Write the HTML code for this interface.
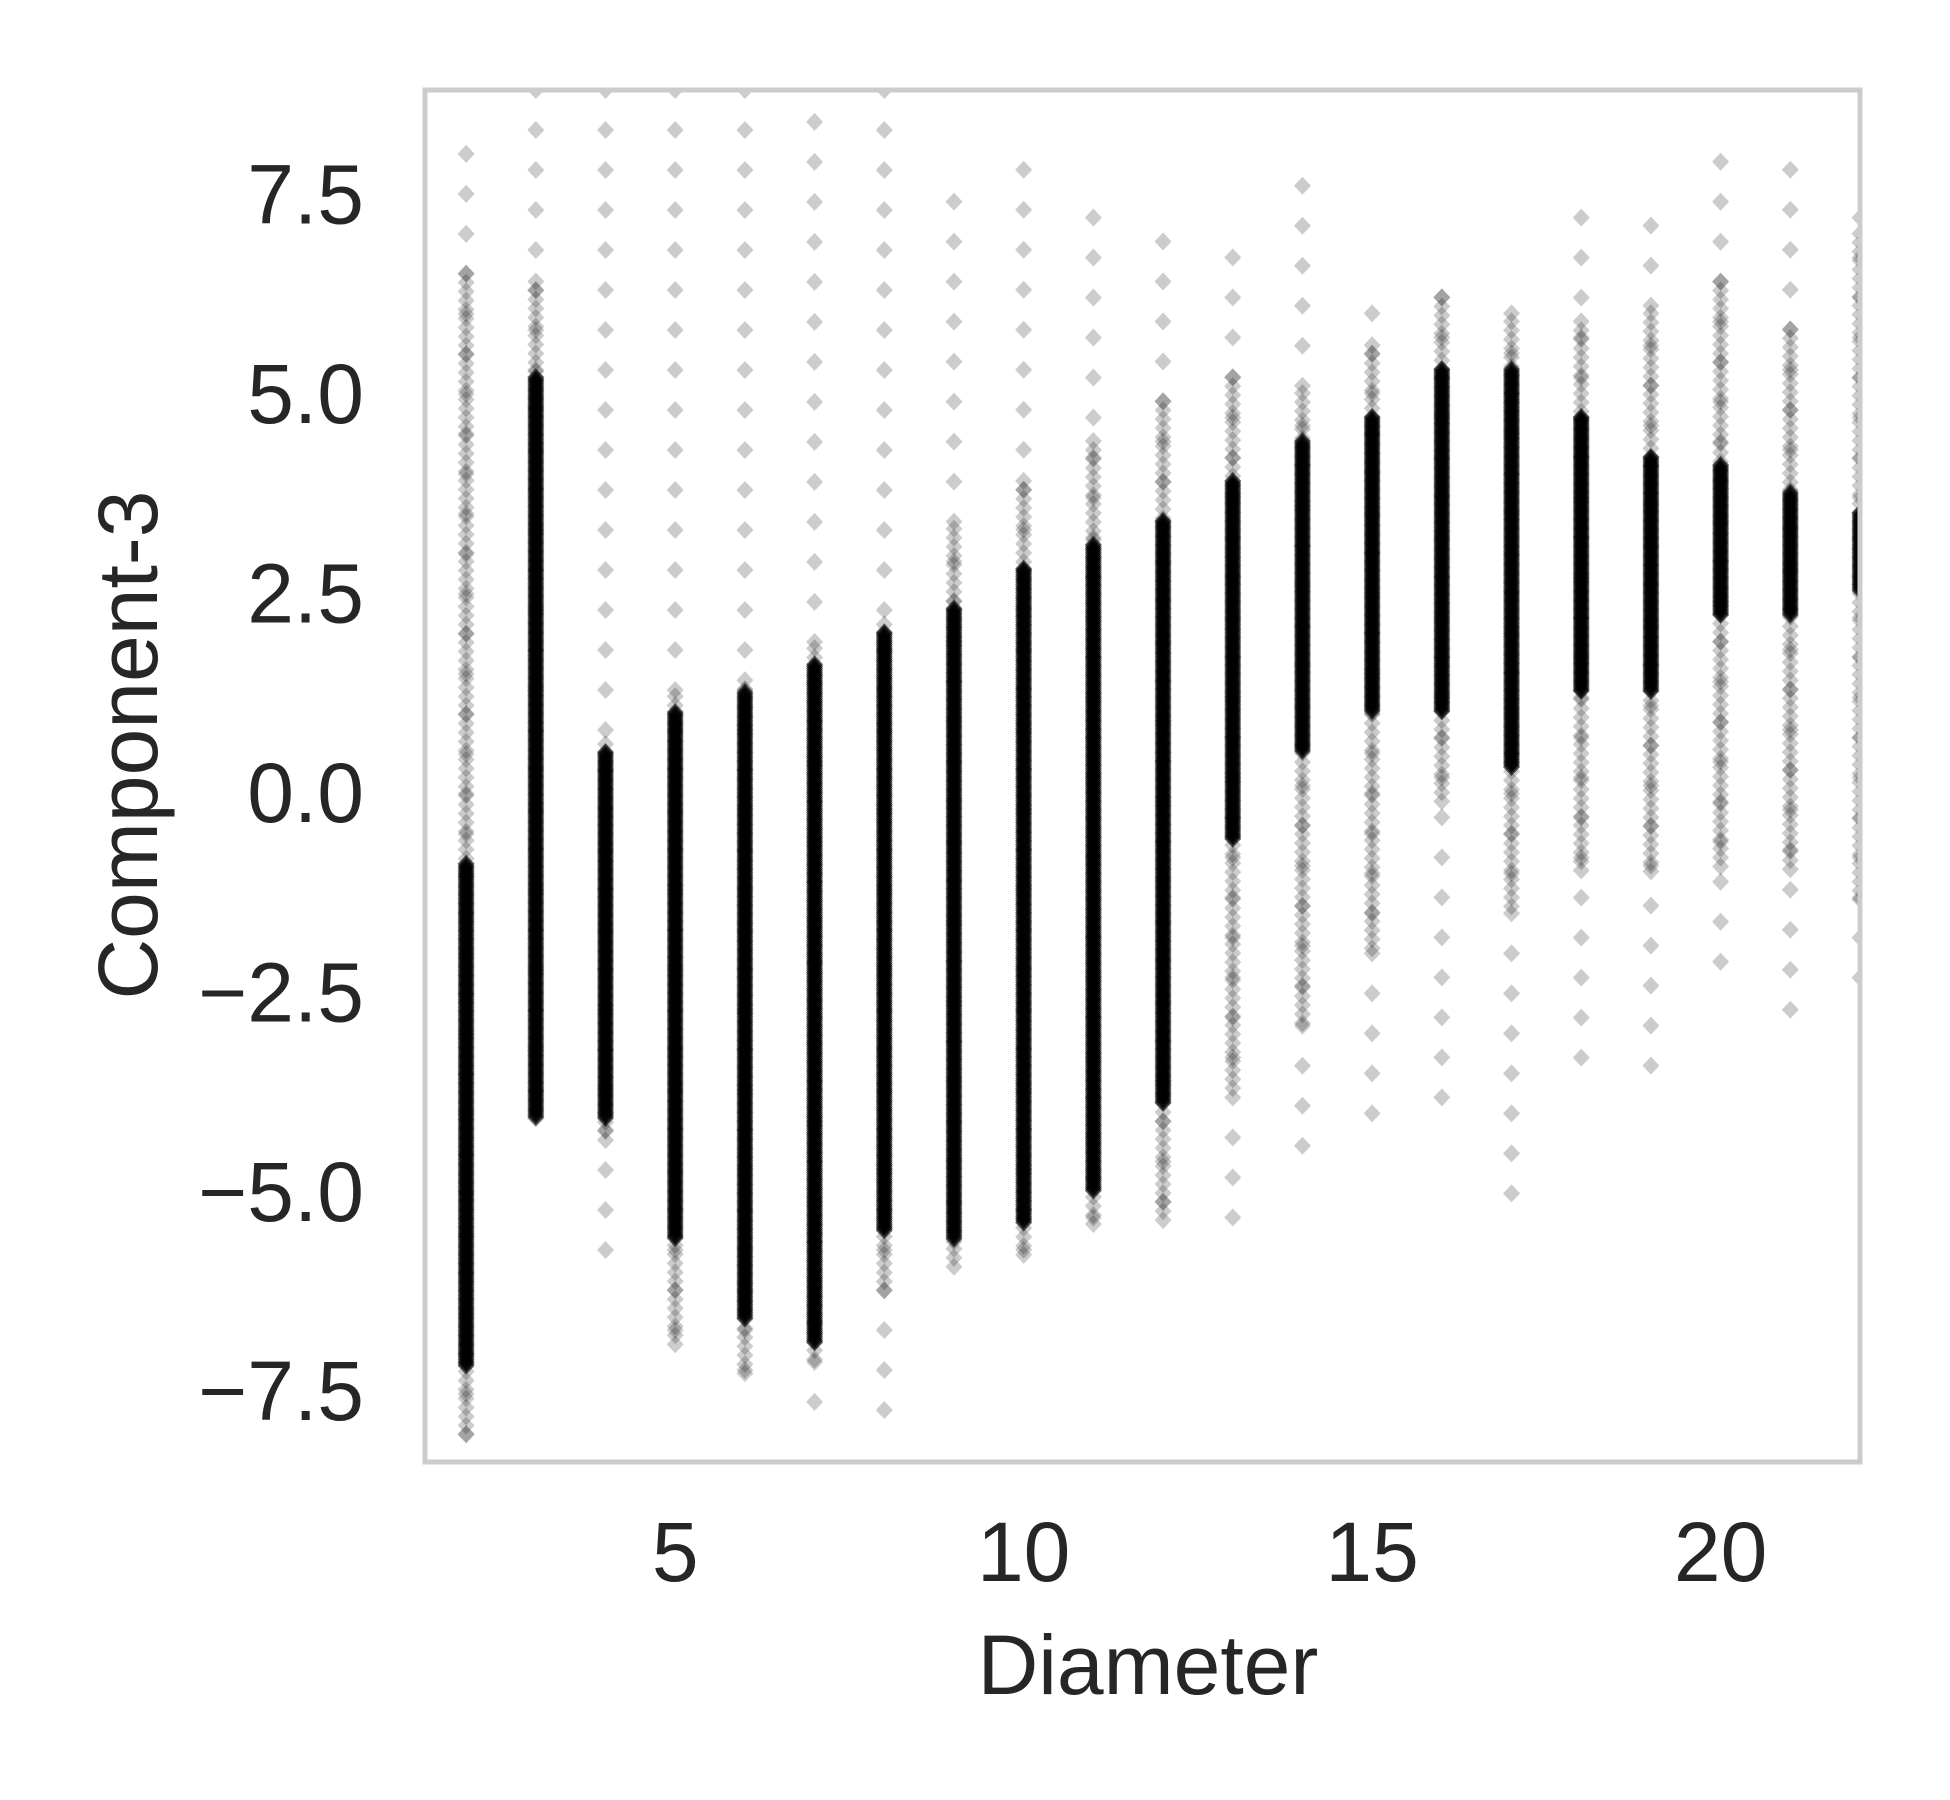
<!DOCTYPE html>
<html><head><meta charset="utf-8"><style>
html,body{margin:0;padding:0;background:#fff;}
svg{display:block;font-family:"Liberation Sans",Arial,sans-serif;}
</style></head><body>
<svg id="chart" width="1950" height="1800" viewBox="0 0 1950 1800" xmlns="http://www.w3.org/2000/svg">
<defs><clipPath id="plotclip"><rect x="425" y="90" width="1435" height="1372"/></clipPath></defs>
<rect x="425" y="90" width="1435" height="1372" fill="#fff"/>
<g id="points" clip-path="url(#plotclip)"></g>
<rect x="425" y="90" width="1435" height="1372" fill="none" stroke="#cccccc" stroke-width="5"/>
<g id="xticks"></g>
<g id="yticks"></g>
<text x="1148" y="1694" font-size="84" fill="#262626" text-anchor="middle">Diameter</text>
<text x="157" y="745" font-size="84" fill="#262626" text-anchor="middle" transform="rotate(-90 157 745)">Component-3</text>
</svg>
<script>
const diameters = [2,3,4,5,6,7,8,9,10,11,12,13,14,15,16,17,18,19,20,21,22];
const coreLo = [-7.2,-4.1,-4.1,-5.6,-6.6,-6.9,-5.5,-5.6,-5.4,-5.0,-3.9,-0.6,0.5,1.0,1.0,0.3,1.25,1.25,2.2,2.2,2.5];
const coreHi = [-0.9,5.2,0.5,1.0,1.25,1.6,2.0,2.3,2.8,3.1,3.4,3.9,4.4,4.7,5.3,5.3,4.7,4.2,4.1,3.75,3.5];
const haloLo = [-8.1,-4.2,-4.4,-7.0,-7.4,-7.2,-6.3,-6.0,-5.9,-5.5,-5.4,-3.8,-3.0,-2.0,-0.2,-1.5,-1.0,-1.1,-1.0,-1.0,-1.4];
const haloHi = [6.5,6.4,0.6,1.2,1.4,1.8,2.1,3.3,3.9,4.4,4.9,5.2,5.0,5.6,6.2,5.9,5.9,6.0,6.4,5.8,7.0];
const tailLo = [-8.3,-4.2,-6.2,-7.0,-7.4,-7.8,-8.0,-6.1,-6.0,-5.6,-5.5,-5.8,-4.8,-4.3,-4.3,-5.1,-3.5,-3.6,-2.5,-2.8,-2.7];
const tailHi = [8.0,8.8,8.8,8.8,8.8,8.4,8.8,7.4,7.8,7.2,6.9,6.7,7.6,6.0,6.2,6.0,7.2,7.1,7.9,7.8,7.2];
const xTicks = [5,10,15,20];
const yTicks = [7.5,5.0,2.5,0.0,-2.5,-5.0,-7.5];
const xTickLabels = ["5","10","15","20"];
const yTickLabels = ["7.5","5.0","2.5","0.0","\u22122.5","\u22125.0","\u22127.5"];

const NS = "http://www.w3.org/2000/svg";
const X0 = 425, X1 = 1860, Y0 = 90, Y1 = 1462;
const xMin = 1.41, xMax = 22.0, yMin = -8.40, yMax = 8.80;
function xScale(v){ return X0 + (v - xMin) / (xMax - xMin) * (X1 - X0); }
function yScale(v){ return Y1 - (v - yMin) / (yMax - yMin) * (Y1 - Y0); }

const pts = document.getElementById('points');
function band(cx, lo, hi, stepPx, group){
  const yTop = yScale(hi), yBot = yScale(lo);
  for (let y = yTop; y <= yBot + 0.01; y += stepPx) {
    const d = document.createElementNS(NS, 'path');
    
    
    d.setAttribute('d', `M${cx} ${y-9}L${cx+8.5} ${y}L${cx} ${y+9}L${cx-8.5} ${y}Z`);
    group.appendChild(d);
  }
}
function makeGroup(name, op){
  const g = document.createElementNS(NS, 'g');
  
  
  g.setAttribute('fill', '#000');
  g.setAttribute('fill-opacity', op);
  pts.appendChild(g);
  return g;
}
diameters.forEach((dv, i) => {
  const cx = xScale(dv);
  band(cx, tailLo[i], tailHi[i], 40, makeGroup('tail-d' + dv, '0.2'));
  band(cx, haloLo[i], haloHi[i], 9, makeGroup('halo-d' + dv, '0.2'));
  band(cx, coreLo[i], coreHi[i], 2, makeGroup('core-d' + dv, '0.6'));
});

const xg = document.getElementById('xticks');
xTicks.forEach((v, i) => {
  const t = document.createElementNS(NS, 'text');
  
  
  t.setAttribute('x', xScale(v));
  t.setAttribute('y', 1581);
  t.setAttribute('font-size', '84');
  t.setAttribute('fill', '#262626');
  t.setAttribute('text-anchor', 'middle');
  t.textContent = xTickLabels[i];
  xg.appendChild(t);
});
const yg = document.getElementById('yticks');
yTicks.forEach((v, i) => {
  const t = document.createElementNS(NS, 'text');
  
  
  t.setAttribute('x', 364);
  t.setAttribute('y', yScale(v) + 30);
  t.setAttribute('font-size', '84');
  t.setAttribute('fill', '#262626');
  t.setAttribute('text-anchor', 'end');
  t.textContent = yTickLabels[i];
  yg.appendChild(t);
});
</script>
</body></html>
